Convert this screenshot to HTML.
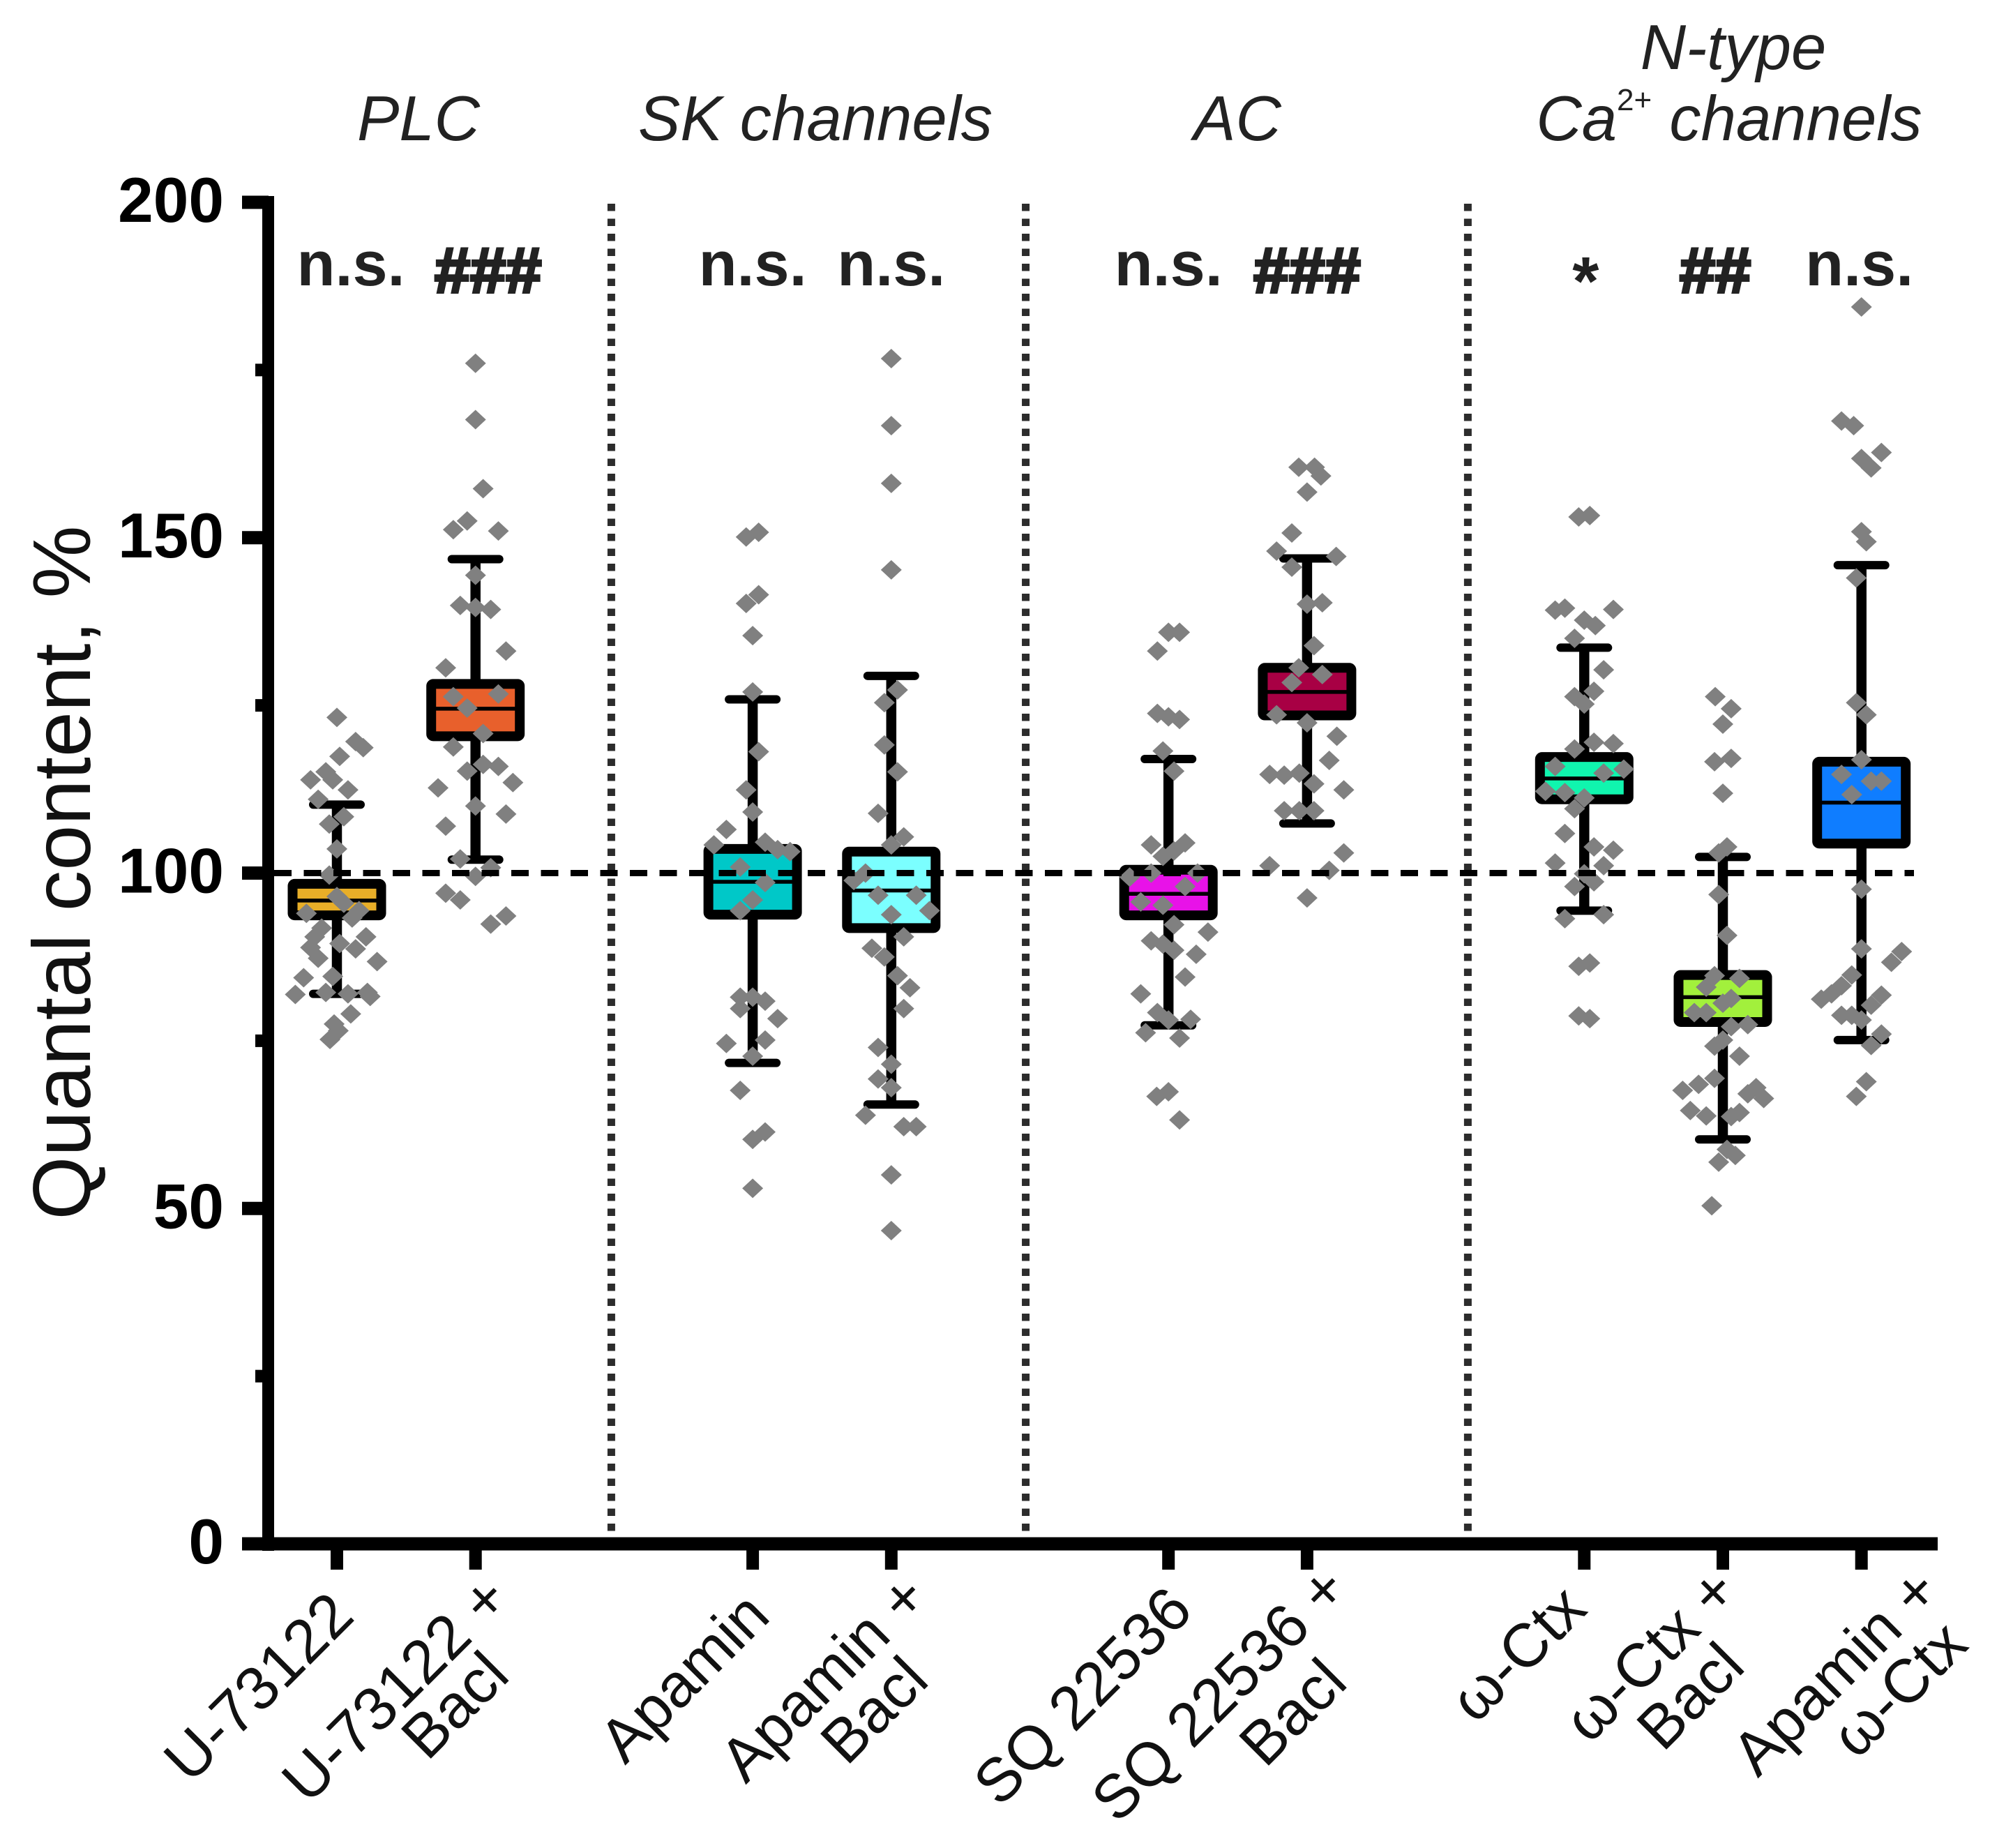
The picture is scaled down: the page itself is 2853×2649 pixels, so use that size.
<!DOCTYPE html>
<html lang="en">
<head>
<meta charset="utf-8">
<title>Quantal content box plot</title>
<style>
html,body{margin:0;padding:0;background:#fff;}
svg{display:block;font-family:"Liberation Sans",sans-serif;}
</style>
</head>
<body>
<svg id="chart" xmlns="http://www.w3.org/2000/svg" width="2853" height="2649" viewBox="0 0 2853 2649">
  <rect x="0" y="0" width="2853" height="2649" fill="#ffffff"/>
  <g font-style="italic" font-size="90.5" fill="#222" text-anchor="middle">
    <text x="600" y="201">PLC</text>
    <text x="1169" y="201">SK channels</text>
    <text x="1774" y="201">AC</text>
    <text x="2485" y="99">N-type</text>
    <text x="2479" y="201">Ca<tspan font-size="44" font-style="normal" dy="-43">2+</tspan><tspan dy="43" xml:space="preserve"> channels</tspan></text>
  </g>
  <text transform="translate(129,1251) rotate(-90)" text-anchor="middle" font-size="117" fill="#111" xml:space="preserve">Quantal content, %</text>
  <g id="layer-separators"></g>
  <g id="layer-boxes"></g>
  <g id="layer-points"></g>
  <g id="layer-ref"></g>
  <g id="layer-axes"></g>
  <g id="layer-stats"></g>
  <g id="layer-xlabels"></g>
</svg>
<script>
const categories = ['U-73122','U-73122 + Bacl','Apamin','Apamin + Bacl','SQ 22536','SQ 22536 + Bacl','w-Ctx','w-Ctx + Bacl','Apamin + w-Ctx'];
const categorySlots = [0,1,3,4,6,7,9,10,11];
const separatorSlots = [1.98,4.97,8.16];
const q1Values =      [93.7,120.4,93.8,91.8,93.7,123.5,111.0,77.8,104.4];
const medianValues =  [95.9,124.5,98.7,97.4,96.9,127.0,114.1,81.5,110.5];
const q3Values =      [98.4,128.2,103.6,103.2,100.5,130.6,117.3,84.8,116.6];
const whiskerLow =    [82.0,102.0,71.7,65.5,77.3,107.4,94.4,60.3,75.1];
const whiskerHigh =   [110.2,146.8,125.9,129.4,117.0,146.9,133.6,102.4,145.9];
const boxColors = ['#E8AE28','#E8602C','#00C8C8','#7BFFFF','#E812E8','#A80044','#10F5AE','#A2F03C','#0F7DFF'];
const yTickValues = [0,50,100,150,200];
const yMinorTicks = [25,75,125,175];
const referenceValue = 100;
const significance = ['n.s.','###','n.s.','n.s.','n.s.','###','*','##','n.s.'];

const valuesA = [123.2,119.6,118.7,117.4,113.9,115.1,113.9,112.4,111,108.4,107.3,103.6,99.7,96.5,95.5,94,94.4,93.3,91.8,90.5,88.9,89.5,88.7,90.5,87.3,86.8,84.6,84.4,82.2,82,82.2,81.6,81.9,75.2,76.5,77.5,79];
const jitterA = [0,13.5,19,2,-19,-8,-3,8,-13.5,5,-5.5,0,-5.5,0,5,-22,16,11,-11,-16,-19,2,13.5,21,-13.5,29,-3,-24,-8,8,22,24,-30,-5,1,-2,10];
const valuesB = [176,167.6,157.3,152.5,151.2,151,144.4,139.9,139.6,139.3,133.1,130.6,126.3,126.7,124.6,120.8,118.8,116.2,115.9,115.2,113.5,112.7,110,108.8,107,102.1,100.8,99.5,97,96,93.6,92.4];
const jitterB = [0,0,5.5,-6,-16,16.5,0,-11,0,11,22,-21.5,-16,16.5,-6,5.5,-16,5.5,16.5,-6,27,-27,0,22,-21.5,-11,11,0,-21.5,-11,22,11];
const valuesC = [150.8,150.1,141.5,140.2,135.4,127,118.1,112.4,109.1,106.5,104.2,104.6,103.5,103.2,100.9,98.6,96,94.4,81.5,81.5,80.9,79.8,78.3,75.1,74.6,72.7,67.6,61.4,60.3,53];
const jitterC = [4.3,-4.7,4.3,-4.7,0,0,4.3,-4.7,0,-19,-28,9,18,27,-9,9,0,-9,-9,0,9,-9,18,9,-19,0,-9,9,0,0];
const valuesD = [176.7,166.7,158.1,145.2,127.3,125.4,119.1,115.1,108.9,105.4,104.2,100,98.9,96.7,96.7,94.4,93.8,90.5,88.8,87.5,84.7,82.9,79.8,74,71.5,69.3,68,63.9,62.2,62.2,55,46.7];
const jitterD = [0,0,0,0,4.5,-5,-5,4.5,-9.5,9,0,-18.6,-27,-9.5,18,27.6,0,9,-14,-5,4.5,13.5,9,-9.5,0,-9.5,0,-18.6,9,18,0,0];
const valuesE = [135.9,135.9,133.1,123.8,123.3,122.9,118.2,115.2,104.2,104.5,103.3,102.5,99.4,100,100,98,95.7,95.2,92.3,91.2,89.9,89.4,88.5,87.9,84.5,82,79.2,78.2,78.1,76.2,75.4,67.4,66.7,63.2];
const jitterE = [0,8,-8,-8,0,8,-4,4,-12.5,12,4,-4,-28,-12.5,21,12,-20,-4,4,28.5,-12.5,-4,4,20,12,-20,-8,16,0,-16.5,8,0,-8.5,8];
const valuesF = [160.5,160.5,159.2,156.8,150.7,148,147.2,145.6,140.1,140.3,133.9,130.6,129.6,128.4,123.6,122.4,120.4,116.8,114.7,114.6,114.9,113.3,112.4,109.3,109.3,109.3,103,101.1,100.4,96.3];
const jitterF = [-6,5.4,10,0,-11,-22,21,-11,0,11,5,-6,11,-11,-22,0,21.5,16,-27,-16.5,-5.6,5,26.5,-16.5,-5.6,5,26.5,-27,16,0];
const valuesG = [153.1,153.3,139.2,139.5,139.3,137.7,136.9,135,130.3,126.3,127.1,125.2,118.5,119.5,119.3,115.9,114.9,115.5,112.2,112,111.2,109.6,105.9,103.9,103.4,101.5,101.1,99.9,98.7,98,93.2,93.8,86.1,86.6,78.7,78.3];
const jitterG = [-4,4,-21,-14,21,0,8,-7,14,-7,7,0,-7,7,21,-21,14,28.5,-28,-14,0,-7,-14,7,21,-21,14,0,7,-7,-14,14,-4,4,-4,4];
const valuesH = [126.3,124.5,122.2,116.6,117.1,111.9,103.9,103,96.8,90.7,84.7,84.3,83,81.3,80.6,79.2,79.2,77.1,77.4,75.1,74.2,72.7,69.4,68,67.6,68.5,67.1,66.4,64.6,64.3,63.8,63.7,58.8,57.9,56.9,50.4];
const jitterH = [-5.5,6,0,-6,6,0,3,-3,-3,3,-6,12,-12,6,0,-20.6,-12,6,18,0,-6,12,-6,24,-29,-17.5,18,29.5,-23.5,12,-12,6,3,9,-3,-8];
const valuesI = [184.4,167.4,166.7,162.7,161.8,160.4,150.9,149.4,144,125.4,123.6,116.9,114.7,113.7,113.7,111.7,97.6,88.7,88.3,86.7,84.8,83.2,82,81.2,81.8,80.3,78.8,78.8,78.1,76,74.3,68.9,66.7];
const jitterI = [0,-14.4,-5.6,14.4,0,7,0,3.5,-3.7,-3.7,3.5,0,-14.4,7,14.4,-7,0,0,29,21.6,-7,-14.4,-21.6,-29,14.4,7,-14.4,-7,0,14.4,7,3.5,-3.7];
const pointValues = [valuesA,valuesB,valuesC,valuesD,valuesE,valuesF,valuesG,valuesH,valuesI];
const pointJitter = [jitterA,jitterB,jitterC,jitterD,jitterE,jitterF,jitterG,jitterH,jitterI];

const NS = 'http://www.w3.org/2000/svg';
function xScale(slot){ return 483 + slot * 198.7; }
function yScale(v){ return 2213 - v * 9.615; }
function mk(tag, attrs, parent){
  const el = document.createElementNS(NS, tag);
  for (const k in attrs) el.setAttribute(k, attrs[k]);
  parent.appendChild(el);
  return el;
}
const slug = s => s.toLowerCase().replace(/[^a-z0-9]+/g,'-');
const lSep = document.getElementById('layer-separators');
const lBox = document.getElementById('layer-boxes');
const lPts = document.getElementById('layer-points');
const lRef = document.getElementById('layer-ref');
const lAx = document.getElementById('layer-axes');
const lStat = document.getElementById('layer-stats');
const lX = document.getElementById('layer-xlabels');

separatorSlots.forEach(function(s, i){
  const el = mk('line', {x1:xScale(s), x2:xScale(s), y1:292, y2:2214, stroke:'#2c2c2c', 'stroke-width':11, 'stroke-dasharray':'10.5 11'}, lSep);
  
  
});

categories.forEach(function(c, i){
  const cx = xScale(categorySlots[i]);
  const g = mk('g', {}, lBox);
  
  
  const w = mk('line', {x1:cx, x2:cx, y1:yScale(whiskerHigh[i]), y2:yScale(whiskerLow[i]), stroke:'#000', 'stroke-width':14.5}, g);
  
  
  [whiskerHigh[i], whiskerLow[i]].forEach(function(v, k){
    const cap = mk('line', {x1:cx-34, x2:cx+34, y1:yScale(v), y2:yScale(v), stroke:'#000', 'stroke-width':12, 'stroke-linecap':'round'}, g);
    
    
  });
  const box = mk('rect', {x:cx-63.5, width:127, y:yScale(q3Values[i]), height:yScale(q1Values[i])-yScale(q3Values[i]), rx:3, fill:boxColors[i], stroke:'#000', 'stroke-width':14}, g);
  
  
  const med = mk('line', {x1:cx-63, x2:cx+63, y1:yScale(medianValues[i]), y2:yScale(medianValues[i]), stroke:'#000', 'stroke-width':5.5}, g);
  
  

  pointValues[i].forEach(function(v, k){
    const px = xScale(categorySlots[i] + pointJitter[i][k] / 100);
    const py = yScale(v);
    const d = mk('polygon', {points:(px-15)+','+py+' '+px+','+(py-14)+' '+(px+15)+','+py+' '+px+','+(py+14), fill:'#808080'}, lPts);
    
    
  });

  const isHash = significance[i].charAt(0) === '#';
  const isStar = significance[i] === '*';
  const t = mk('text', {x:cx + [20,18,0,0,0,0,2,-11,-3][i], y:isStar ? 437 : (isHash ? 419 : 409), 'text-anchor':'middle', 'font-weight':'bold', 'font-size':isHash ? 92 : (isStar ? 98 : 90), fill:'#222', stroke:isHash ? '#222' : 'none', 'stroke-width':isHash ? 4 : 0}, lStat);
  t.textContent = significance[i];
  
  
});

const refLine = mk('line', {x1:393, x2:2744, y1:yScale(referenceValue), y2:yScale(referenceValue), stroke:'#000', 'stroke-width':9, 'stroke-dasharray':'25 17.5'}, lRef);



const yAxis = mk('line', {x1:384.5, x2:384.5, y1:281, y2:2223, stroke:'#000', 'stroke-width':17}, lAx);


const xAxis = mk('line', {x1:347, x2:2778, y1:2213, y2:2213, stroke:'#000', 'stroke-width':19}, lAx);


yTickValues.forEach(function(v){
  const tk = mk('line', {x1:347, x2:385, y1:yScale(v), y2:yScale(v), stroke:'#000', 'stroke-width':19}, lAx);
  
  
  const lb = mk('text', {x:321, y:yScale(v)+28, 'text-anchor':'end', 'font-weight':'bold', 'font-size':91, fill:'#000'}, lAx);
  lb.textContent = v;
  
  
});
yMinorTicks.forEach(function(v){
  const tk = mk('line', {x1:366, x2:385, y1:yScale(v), y2:yScale(v), stroke:'#000', 'stroke-width':18}, lAx);
  
  
});

const xLabelLines = [
  [['U-73122',28,2320]],
  [['U-73122 +',52,2296],['Bacl',52,2405]],
  [['Apamin',28,2320]],
  [['Apamin +',56,2294],['Bacl',57,2412]],
  [['SQ 22536',38,2312]],
  [['SQ 22536 +',62,2282],['Bacl',61,2415]],
  [['\u03C9-Ctx',7,2310]],
  [['\u03C9-Ctx +',25,2285],['Bacl',35,2392]],
  [['Apamin +',116,2285],['\u03C9-Ctx',156,2361]]
];
categories.forEach(function(c, i){
  const cx = xScale(categorySlots[i]);
  const tk = mk('line', {x1:cx, x2:cx, y1:2213, y2:2250, stroke:'#000', 'stroke-width':18}, lX);
  
  
  xLabelLines[i].forEach(function(l, k){
    const t = mk('text', {transform:'translate(' + (cx + l[1]) + ',' + l[2] + ') rotate(-45)', 'text-anchor':'end', 'font-size':88, fill:'#111'}, lX);
    t.textContent = l[0];
    
    
  });
});
</script>
</body>
</html>
